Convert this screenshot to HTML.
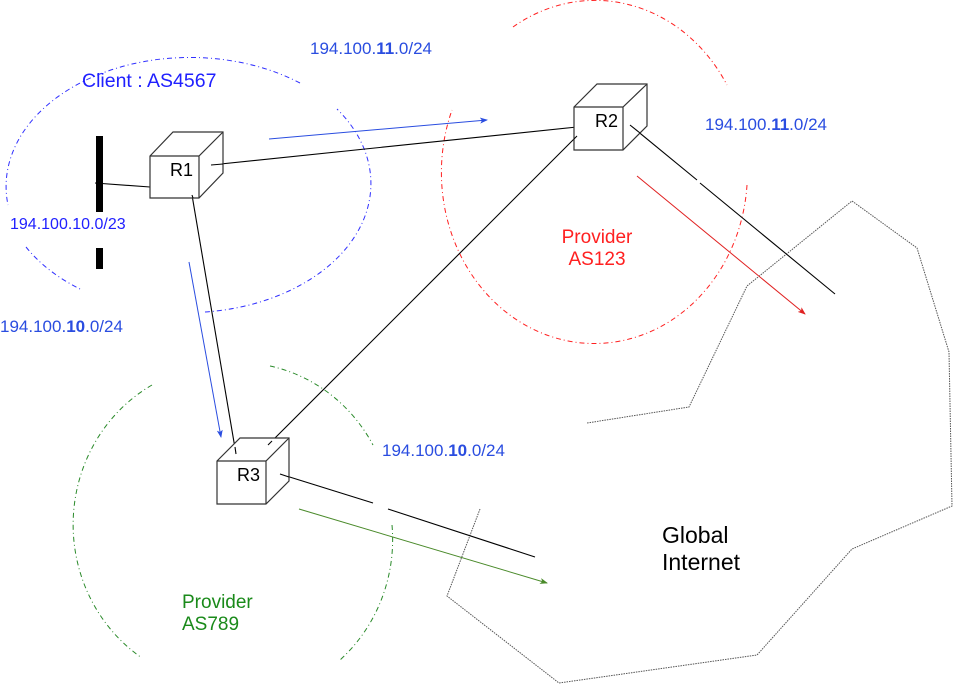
<!DOCTYPE html>
<html><head><meta charset="utf-8"><style>
html,body{margin:0;padding:0;background:#fff;}
svg{display:block;font-family:"Liberation Sans",sans-serif;}
</style></head><body>
<svg width="953" height="698" viewBox="0 0 953 698" xmlns="http://www.w3.org/2000/svg">
<defs>
<marker id="ab" markerWidth="8" markerHeight="6" refX="7" refY="3" orient="auto" markerUnits="userSpaceOnUse"><path d="M0,0 L8,3 L0,6 L2,3 z" fill="#2a4de0"/></marker>
<marker id="ar" markerWidth="8" markerHeight="6" refX="7" refY="3" orient="auto" markerUnits="userSpaceOnUse"><path d="M0,0 L8,3 L0,6 L2,3 z" fill="#e02020"/></marker>
<marker id="ag" markerWidth="8" markerHeight="6" refX="7" refY="3" orient="auto" markerUnits="userSpaceOnUse"><path d="M0,0 L8,3 L0,6 L2,3 z" fill="#4a8a2a"/></marker>
</defs>
<path d="M480,509 L447,596 L559,683 L757,655 L852,549 L952,506 L949,352 L917,248 L852,201 L747,286 L689,407 L587,423" fill="none" stroke="#555" stroke-width="1" stroke-dasharray="1.5,1"/>
<g fill="none" stroke="#3030ff" stroke-width="1" stroke-dasharray="5,3,1,3">
<path d="M300,83 A184,129 0 0 0 8,205"/>
<path d="M26,247 A184,129 0 0 0 82,290"/>
<path d="M205,312 A184,129 0 0 0 337,109"/>
</g>
<g fill="none" stroke="#ff2020" stroke-width="1" stroke-dasharray="5,3,1,3">
<path d="M513,27 A153,171 0 0 1 727,85"/>
<path d="M747,185 A153,171 0 1 1 452,110"/>
</g>
<g fill="none" stroke="#2a8a2a" stroke-width="1" stroke-dasharray="5,3,1,3">
<path d="M152,385 A154,160 0 0 0 142,658"/>
<path d="M270,366 A154,160 0 0 1 373,445"/>
<path d="M392,525 A154,160 0 0 1 340,660"/>
</g>
<rect x="96" y="136" width="7" height="76" fill="#000"/>
<rect x="96" y="248" width="7" height="21" fill="#000"/>
<g stroke="#000" stroke-width="1.1" fill="none">
<line x1="95" y1="183" x2="150" y2="187"/>
<line x1="211" y1="165" x2="577" y2="127"/>
<line x1="192" y1="195" x2="236" y2="454"/>
<line x1="577" y1="136" x2="272" y2="441"/>
<line x1="630" y1="125" x2="697" y2="180"/>
<line x1="700" y1="183" x2="835" y2="294"/>
<line x1="280" y1="474" x2="373" y2="503"/>
<line x1="388" y1="509" x2="535" y2="557"/>
</g>
<line x1="269" y1="139" x2="487" y2="120" stroke="#2a4de0" marker-end="url(#ab)"/>
<line x1="189" y1="262" x2="221" y2="437" stroke="#2a4de0" marker-end="url(#ab)"/>
<line x1="637" y1="176" x2="805" y2="314" stroke="#e02020" marker-end="url(#ar)"/>
<line x1="299" y1="509" x2="547" y2="583" stroke="#4a8a2a" marker-end="url(#ag)"/>
<g fill="#fff" stroke="#333" stroke-width="1.2">
<path d="M150,156 L173,132 L223,132 L223,173 L199,198 L150,198 Z"/>
<path d="M150,156 L199,156 L223,132 M199,156 L199,198"/>
<path d="M574,107 L597,84 L647,84 L647,126 L623,150 L574,150 Z"/>
<path d="M574,107 L623,107 L647,84 M623,107 L623,150"/>
<path d="M217,461 L240,438 L289,438 L289,481 L266,504 L217,504 Z"/>
<path d="M217,461 L266,461 L289,438 M266,461 L266,504"/>
</g>
<g stroke="#000" stroke-width="1.1">
<line x1="211" y1="165" x2="223" y2="164"/>
<line x1="192" y1="195" x2="193" y2="198"/>
<line x1="236" y1="454" x2="235" y2="447"/>
<line x1="272" y1="441" x2="268" y2="445"/>
<line x1="630" y1="125" x2="640" y2="133"/>
<line x1="577" y1="136" x2="574" y2="139"/>
<line x1="280" y1="474" x2="289" y2="477"/>
</g>
<g font-size="18" fill="#000">
<text x="170" y="176">R1</text>
<text x="595" y="127">R2</text>
<text x="237" y="481">R3</text>
</g>
<g fill="#2a4de0" font-size="17">
<text x="310" y="54">194.100.<tspan font-weight="bold">11</tspan>.0/24</text>
<text x="705" y="130">194.100.<tspan font-weight="bold">11</tspan>.0/24</text>
<text x="0" y="332">194.100.<tspan font-weight="bold">10</tspan>.0/24</text>
<text x="382" y="456">194.100.<tspan font-weight="bold">10</tspan>.0/24</text>
</g>
<text x="10" y="229" font-size="16" fill="#2020ff">194.100.10.0/23</text>
<text x="82" y="87" font-size="19.5" fill="#2020ff">Client : AS4567</text>
<g fill="#ff2020" font-size="19" text-anchor="middle">
<text x="597" y="243">Provider</text>
<text x="597" y="265">AS123</text>
</g>
<g fill="#1a8a1a" font-size="19">
<text x="182" y="608">Provider</text>
<text x="182" y="630">AS789</text>
</g>
<g fill="#000" font-size="23">
<text x="662" y="543">Global</text>
<text x="662" y="570">Internet</text>
</g>
</svg>
</body></html>
